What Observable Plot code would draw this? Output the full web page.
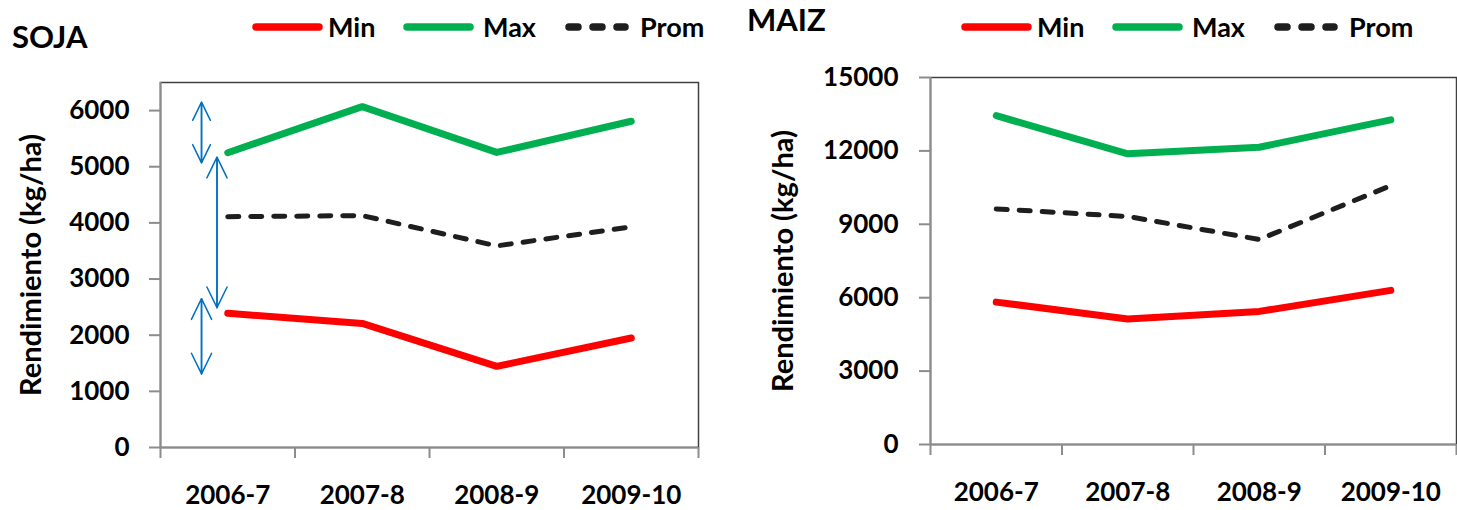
<!DOCTYPE html>
<html>
<head>
<meta charset="utf-8">
<script src="https://cdn.jsdelivr.net/npm/d3@7"></script>
<script src="https://cdn.jsdelivr.net/npm/@observablehq/plot@0.6"></script>
<style>
  body { margin: 0; background: #fff; font-family: Lato, "Open Sans", sans-serif; }
  #wrap { position: relative; width: 1457px; height: 510px; overflow: hidden; background: #fff; }
  .panel { position: absolute; top: 0; }
  .title { position: absolute; font-weight: bold; font-size: 31px; color: #000; line-height: 1; }
  .legend { position: absolute; top: 0; height: 56px; }
  .legend .item { position: absolute; font-weight: bold; font-size: 27px; color: #000; line-height: 1; }
</style>
</head>
<body>
<div id="wrap"></div>
<script>
// ---- data ----
const categories = ["2006-7", "2007-8", "2008-9", "2009-10"];
const seriesNames = ["Min", "Max", "Prom"];
const seriesColors = ["#FF0000", "#00B050", "#1E1E1E"];

const sojaMin  = [2390, 2210, 1445, 1950];
const sojaMax  = [5250, 6070, 5255, 5810];
const sojaProm = [4110, 4130, 3590, 3930];

const maizMin  = [5820, 5130, 5440, 6300];
const maizMax  = [13440, 11880, 12150, 13270];
const maizProm = [9630, 9320, 8380, 10580];

const sojaYTicks = [0, 1000, 2000, 3000, 4000, 5000, 6000];
const maizYTicks = [0, 3000, 6000, 9000, 12000, 15000];

// double-headed annotation arrows in the SOJA panel (x in category-index units)
const sojaArrowX  = [-0.195, -0.08, -0.195];
const sojaArrowY1 = [6150, 5170, 2650];
const sojaArrowY2 = [5070, 2490, 1310];

const yLabel = "Rendimiento (kg/ha)";

// ---- drawing ----
const axisGray = "#8c8c8c";
const frameDark = "#404040";

function makePanel(cfg) {
  const rows = [];
  categories.forEach((c, i) => {
    rows.push({i, cat: c, s: "Min", v: cfg.min[i]});
    rows.push({i, cat: c, s: "Max", v: cfg.max[i]});
    rows.push({i, cat: c, s: "Prom", v: cfg.prom[i]});
  });
  const arrows = (cfg.arrowX || []).map((x, k) => ({x, y1: cfg.arrowY1[k], y2: cfg.arrowY2[k]}));
  const bounds = d3.range(categories.length + 1).map(k => k - 0.5);
  const marks = [
    Plot.frame({stroke: frameDark, strokeWidth: 1.5}),
    Plot.ruleX([-0.5], {stroke: axisGray, strokeWidth: 2}),
    Plot.ruleY([0], {stroke: axisGray, strokeWidth: 2}),
    Plot.axisY({ticks: cfg.yTicks, tickSize: 11, tickPadding: cfg.yPad, stroke: axisGray, strokeWidth: 2,
      tickFormat: d => String(d), fontSize: 26, fontWeight: "bold", fill: "#000", label: null}),
    Plot.axisX({ticks: bounds, tickSize: 11, stroke: axisGray, strokeWidth: 2, tickFormat: () => "", label: null}),
    Plot.axisX({ticks: d3.range(categories.length), tickSize: 0, tickPadding: 38,
      tickFormat: i => categories[i], fontSize: 26, fontWeight: "bold", fill: "#000", label: null}),
    Plot.text([yLabel], {frameAnchor: "left", textAnchor: "middle", lineAnchor: "middle", rotate: -90,
      dx: cfg.labelDx, fontSize: 29, fontWeight: "bold", fill: "#000"}),
    Plot.line(rows.filter(d => d.s === "Min"), {x: "i", y: "v", stroke: "s", strokeWidth: 7, strokeLinecap: "round", strokeLinejoin: "round"}),
    Plot.line(rows.filter(d => d.s === "Max"), {x: "i", y: "v", stroke: "s", strokeWidth: 7, strokeLinecap: "round", strokeLinejoin: "round"}),
    Plot.line(rows.filter(d => d.s === "Prom"), {x: "i", y: "v", stroke: "s", strokeWidth: 5, strokeDasharray: "11,12", strokeLinecap: "round", strokeLinejoin: "round"})
  ];
  if (arrows.length) {
    marks.push(Plot.arrow(arrows, {x: "x", y1: "y1", y2: "y2", stroke: "#0070C0", strokeWidth: 1.5, headLength: 23, headAngle: 52, bend: 0}));
    marks.push(Plot.arrow(arrows, {x: "x", y1: "y2", y2: "y1", stroke: "#0070C0", strokeWidth: 1.5, headLength: 23, headAngle: 52, bend: 0}));
  }
  return Plot.plot({
    width: cfg.width, height: 510,
    marginLeft: cfg.ml, marginRight: cfg.mr, marginTop: cfg.mt, marginBottom: cfg.mb,
    style: {fontFamily: "Lato, 'Open Sans', sans-serif", background: "transparent", overflow: "visible"},
    x: {type: "linear", domain: [-0.5, categories.length - 0.5], axis: null},
    y: {domain: [0, cfg.yMax], axis: null},
    color: {domain: seriesNames, range: seriesColors},
    marks
  });
}

function makeLegend(left) {
  const div = document.createElement("div");
  div.className = "legend";
  div.style.left = left + "px";
  const swatchX = [0, 151, 313];
  const textX = [76, 231, 388];
  seriesNames.forEach((name, k) => {
    const svg = d3.create("svg").attr("width", 72).attr("height", 14)
      .style("position", "absolute").style("left", swatchX[k] + "px").style("top", "20px");
    const ln = svg.append("line").attr("x1", 4).attr("x2", k === 2 ? 60 : 67).attr("y1", 7).attr("y2", 7)
      .attr("stroke", seriesColors[k]).attr("stroke-width", 7.5).attr("stroke-linecap", "round");
    if (k === 2) ln.attr("stroke-dasharray", "9,15");
    div.appendChild(svg.node());
    const t = document.createElement("div");
    t.className = "item";
    t.textContent = name;
    t.style.left = textX[k] + "px";
    t.style.top = "13px";
    div.appendChild(t);
  });
  return div;
}

const wrap = document.getElementById("wrap");

const left = makePanel({min: sojaMin, max: sojaMax, prom: sojaProm, yMax: 6500, yTicks: sojaYTicks,
  width: 728, ml: 160, mr: 30, mt: 82, mb: 63, yPad: 20, labelDx: -129,
  arrowX: sojaArrowX, arrowY1: sojaArrowY1, arrowY2: sojaArrowY2});
left.classList.add("panel");
left.style.left = "0px";
wrap.appendChild(left);

const right = makePanel({min: maizMin, max: maizMax, prom: maizProm, yMax: 15000, yTicks: maizYTicks,
  width: 729, ml: 202, mr: 1, mt: 77, mb: 66, yPad: 21, labelDx: -147});
right.classList.add("panel");
right.style.left = "728px";
wrap.appendChild(right);

const t1 = document.createElement("div"); t1.className = "title"; t1.textContent = "SOJA";
t1.style.left = "12px"; t1.style.top = "21px"; wrap.appendChild(t1);
const t2 = document.createElement("div"); t2.className = "title"; t2.textContent = "MAIZ";
t2.style.left = "747px"; t2.style.top = "4px"; wrap.appendChild(t2);

wrap.appendChild(makeLegend(252));
wrap.appendChild(makeLegend(961));
</script>
</body>
</html>
